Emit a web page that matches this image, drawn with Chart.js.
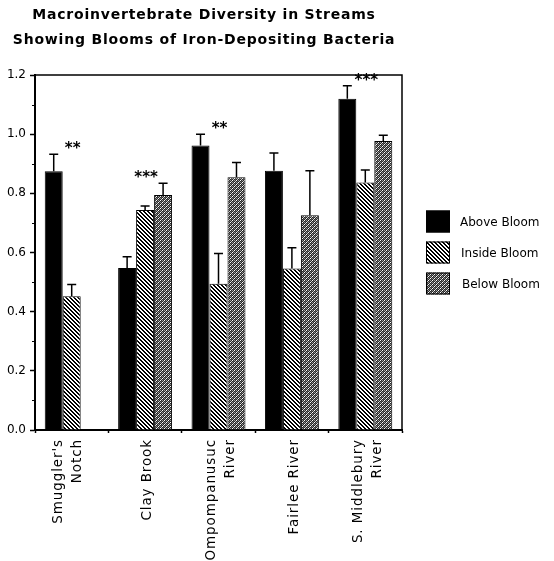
<!DOCTYPE html>
<html>
<head>
<meta charset="utf-8">
<script src="https://cdn.jsdelivr.net/npm/chart.js@4/dist/chart.umd.min.js"></script>
<style>
  html, body { margin: 0; padding: 0; background: #fff; }
  #c { display: block; }
</style>
</head>
<body>
<canvas id="c" width="554" height="561"></canvas>
<script>
// Streams sampled, with diversity index by position relative to the bloom
const categories = [["Smuggler's", "Notch"], "Clay Brook", ["Ompompanusuc", "River"], "Fairlee River", ["S. Middlebury", "River"]];
const seriesNames = ["Above Bloom", "Inside Bloom", "Below Bloom"];

const aboveBloom = [0.875, 0.548, 0.962, 0.876, 1.12];
const aboveErr   = [0.057, 0.038, 0.038, 0.060, 0.044];

const insideBloom = [0.452, 0.744, 0.494, 0.546, 0.837];
const insideErr   = [0.040, 0.013, 0.103, 0.070, 0.042];

const belowBloom = [null, 0.794, 0.854, 0.726, 0.977];
const belowErr   = [null, 0.040, 0.050, 0.150, 0.019];

// significance of the between-site difference for each stream
const significance = ["**", "***", "**", "", "***"];

const titleLines = ["Macroinvertebrate Diversity in Streams", "Showing Blooms of Iron-Depositing Bacteria"];
const yMin = 0, yMax = 1.2, yStep = 0.1;

// ---- fill patterns ----
function makePattern(w, h, fn) {
  const c = document.createElement('canvas');
  c.width = w; c.height = h;
  const g = c.getContext('2d');
  const img = g.createImageData(w, h);
  for (let y = 0; y < h; y++) {
    for (let x = 0; x < w; x++) {
      const v = fn(x, y);
      const k = (y * w + x) * 4;
      img.data[k] = v; img.data[k + 1] = v; img.data[k + 2] = v; img.data[k + 3] = 255;
    }
  }
  g.putImageData(img, 0, 0);
  return g.createPattern(c, 'repeat');
}
// diagonal hatching running top-left to bottom-right
const hatch = makePattern(4, 4, (x, y) => (((x - y) % 4 + 4) % 4) < 2 ? 0 : 255);
// dark grey stipple
const stippleTile = [
  [255,  40, 150,  40],
  [ 40,  90,  40, 200],
  [150,  40, 255,  40],
  [ 40, 200,  40,  90]
];
const stipple = makePattern(4, 4, (x, y) => stippleTile[y][x]);
const fills = ['#000000', hatch, stipple];
const errors = [aboveErr, insideErr, belowErr];

const FONT = "'DejaVu Sans', sans-serif";

function spaced(ctx, px) {
  if ('letterSpacing' in ctx) ctx.letterSpacing = px + 'px';
}

// ---- plugins ----
const titlePlugin = {
  id: 'stackTitle',
  afterDraw(chart, args, opts) {
    const ctx = chart.ctx;
    ctx.save();
    ctx.fillStyle = '#000';
    ctx.font = "bold 14px " + FONT;
    spaced(ctx, 0.8);
    ctx.textAlign = 'center';
    ctx.textBaseline = 'middle';
    titleLines.forEach((t, i) => ctx.fillText(t, opts.x, opts.y + i * opts.lineGap));
    ctx.restore();
  }
};

const framePlugin = {
  id: 'frame',
  afterDraw(chart) {
    const { ctx, chartArea: a } = chart;
    ctx.save();
    ctx.strokeStyle = '#000';
    ctx.lineWidth = 1.5;
    ctx.beginPath();
    ctx.moveTo(a.left, a.top);
    ctx.lineTo(a.right, a.top);
    ctx.lineTo(a.right, a.bottom);
    ctx.stroke();
    ctx.restore();
  }
};

// short minor ticks at the odd tenths of the y axis
const minorTickPlugin = {
  id: 'minorTicks',
  afterDraw(chart) {
    const { ctx, chartArea: a } = chart;
    const ys = chart.scales.y;
    ctx.save();
    ctx.strokeStyle = '#000';
    ctx.lineWidth = 1;
    ys.ticks.forEach((t, i) => {
      if (i % 2 === 0) return;
      const y = Math.round(ys.getPixelForValue(t.value)) + 0.5;
      ctx.beginPath();
      ctx.moveTo(a.left - 3, y);
      ctx.lineTo(a.left, y);
      ctx.stroke();
    });
    ctx.restore();
  }
};

// category names, rotated to read bottom-to-top, multi-line blocks centred on the category
const categoryLabelPlugin = {
  id: 'categoryLabels',
  afterDraw(chart, args, opts) {
    const ctx = chart.ctx;
    const xs = chart.scales.x;
    ctx.save();
    ctx.fillStyle = '#000';
    ctx.font = opts.size + "px " + FONT;
    spaced(ctx, opts.spacing);
    ctx.textAlign = 'right';
    ctx.textBaseline = 'alphabetic';
    categories.forEach((lab, j) => {
      const lines = Array.isArray(lab) ? lab : [lab];
      const c = xs.getPixelForValue(j) + opts.shift + (opts.nudge[j] || 0);
      lines.forEach((line, k) => {
        const bx = c + (k - (lines.length - 1) / 2) * opts.lineGap + opts.capHalf;
        ctx.save();
        ctx.translate(bx, xs.top + opts.pad);
        ctx.rotate(-Math.PI / 2);
        ctx.fillText(line, 0, 0);
        ctx.restore();
      });
    });
    ctx.restore();
  }
};

const errorBarPlugin = {
  id: 'errorBars',
  afterDatasetsDraw(chart) {
    const ctx = chart.ctx;
    const yScale = chart.scales.y;
    ctx.save();
    ctx.strokeStyle = '#000';
    ctx.lineWidth = 1.5;
    chart.data.datasets.forEach((ds, i) => {
      const meta = chart.getDatasetMeta(i);
      meta.data.forEach((bar, j) => {
        const v = ds.data[j];
        const e = errors[i][j];
        if (v == null || e == null) return;
        const top = yScale.getPixelForValue(v + e);
        ctx.beginPath();
        ctx.moveTo(bar.x, bar.y);
        ctx.lineTo(bar.x, top);
        ctx.moveTo(bar.x - 4.5, top);
        ctx.lineTo(bar.x + 4.5, top);
        ctx.stroke();
      });
    });
    ctx.restore();
  }
};

const starsPlugin = {
  id: 'sigStars',
  afterDatasetsDraw(chart) {
    const ctx = chart.ctx;
    const xs = chart.scales.x, ys = chart.scales.y;
    ctx.save();
    ctx.fillStyle = '#000';
    ctx.font = "bold 15px " + FONT;
    ctx.textAlign = 'center';
    ctx.textBaseline = 'alphabetic';
    significance.forEach((s, j) => {
      if (!s) return;
      let peak = 0;
      chart.data.datasets.forEach((ds, i) => {
        const v = ds.data[j];
        if (v != null) peak = Math.max(peak, v + (errors[i][j] || 0));
      });
      const cy = ys.getPixelForValue(peak) - 10;
      ctx.fillText(s, xs.getPixelForValue(j) + 1, cy + 9);
    });
    ctx.restore();
  }
};

const legendPlugin = {
  id: 'sideLegend',
  afterDraw(chart) {
    const { ctx, chartArea: a } = chart;
    const mid = (a.top + a.bottom) / 2;
    ctx.save();
    ctx.font = "12px " + FONT;
    ctx.textBaseline = 'middle';
    ctx.textAlign = 'left';
    chart.data.datasets.forEach((ds, i) => {
      const cy = mid + (i - 1) * 31;
      const bx = a.right + 24;
      ctx.fillStyle = ds.backgroundColor;
      ctx.fillRect(bx, cy - 11, 24, 22);
      ctx.strokeStyle = '#000';
      ctx.lineWidth = 1;
      ctx.strokeRect(bx + 0.5, cy - 10.5, 23, 21);
      ctx.fillStyle = '#000';
      ctx.fillText(ds.label, bx + 34 + i, cy + 1);
    });
    ctx.restore();
  }
};

new Chart(document.getElementById('c'), {
  type: 'bar',
  data: {
    labels: categories,
    datasets: [aboveBloom, insideBloom, belowBloom].map((d, i) => ({
      label: seriesNames[i],
      data: d,
      backgroundColor: fills[i],
      borderColor: '#000',
      borderWidth: 1,
      barPercentage: 1.0,
      categoryPercentage: 0.735
    }))
  },
  options: {
    responsive: false,
    devicePixelRatio: 1,
    animation: false,
    layout: { padding: { top: 75, right: 152, bottom: 0, left: 0 } },
    plugins: {
      legend: { display: false },
      tooltip: { enabled: false },
      title: { display: false },
      stackTitle: { x: 204, y: 15, lineGap: 25 },
      categoryLabels: { size: 13.5, spacing: 0.9, lineGap: 19, capHalf: 5, shift: 1, pad: 9, nudge: [-6, 0, 0, 0, 0] }
    },
    scales: {
      x: {
        grid: { display: true, drawOnChartArea: false, offset: true, tickLength: 3, color: '#000', tickWidth: 1.5 },
        border: { color: '#000', width: 2 },
        ticks: { display: false },
        afterFit(s) { s.height = 131; }
      },
      y: {
        min: yMin, max: yMax,
        grid: {
          display: true, drawOnChartArea: false, tickLength: 5,
          color: '#000',
          tickColor: c => (c.index % 2 === 0 ? '#000' : 'rgba(0,0,0,0)'),
          tickWidth: 1.5
        },
        border: { color: '#000', width: 2 },
        ticks: {
          stepSize: yStep,
          autoSkip: false,
          color: '#000',
          font: { family: FONT, size: 12 },
          padding: 4,
          callback: (v, i) => (i % 2 === 0 ? Number(v).toFixed(1) : '')
        },
        afterFit(s) { s.width = 35; }
      }
    }
  },
  plugins: [titlePlugin, framePlugin, minorTickPlugin, categoryLabelPlugin, errorBarPlugin, starsPlugin, legendPlugin]
});
</script>
</body>
</html>
